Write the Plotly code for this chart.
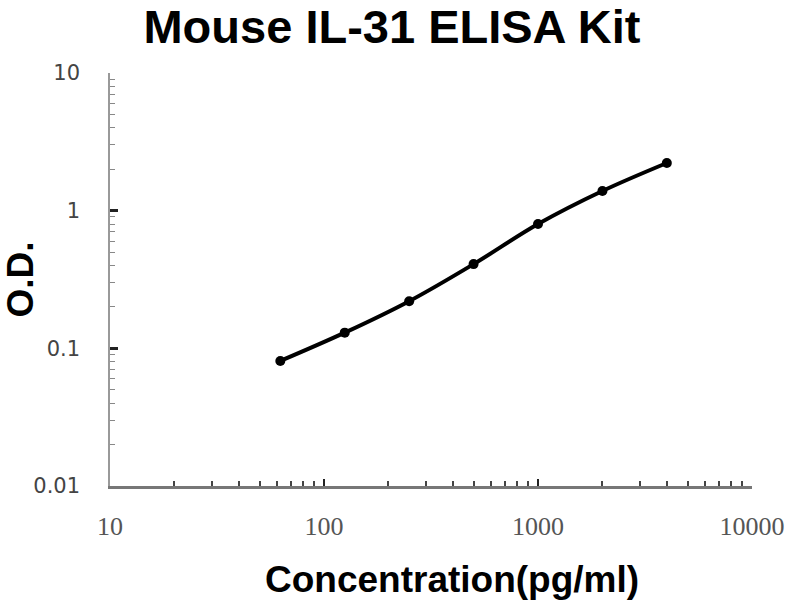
import plotly.graph_objects as go

# standard curve values
concentration = [62.5, 125, 250, 500, 1000, 2000, 4000]
od = [0.081, 0.130, 0.220, 0.409, 0.80, 1.39, 2.22]

x_tick_vals = [10, 100, 1000, 10000]
x_tick_text = ["10", "100", "1000", "10000"]
y_tick_vals = [0.01, 0.1, 1, 10]
y_tick_text = ["0.01", "0.1", "1", "10"]

# minor ticks at 2..9 of each decade
x_minor = [m * 10 ** d for d in range(1, 4) for m in range(2, 10)]
y_minor = [m * 10.0 ** d for d in range(-2, 1) for m in range(2, 10)]

fig = go.Figure()
fig.add_trace(go.Scatter(
    x=concentration, y=od,
    mode="lines+markers",
    line=dict(color="black", width=4, shape="spline", smoothing=1.0),
    marker=dict(color="black", size=10),
    showlegend=False,
))

fig.update_layout(
    width=800, height=600,
    paper_bgcolor="white", plot_bgcolor="white",
    margin=dict(l=110, r=48, t=73, b=114, autoexpand=False),
    title=dict(
        text="<b>Mouse IL-31 ELISA Kit</b>",
        x=0.49, xanchor="center", xref="container",
        y=0.984, yanchor="top", yref="container",
        font=dict(family="Liberation Sans, Arial", size=47, color="black"),
    ),
)

# x axis title placed by hand: it sits right of the plot centre in the reference
fig.add_annotation(
    text="<b>Concentration(pg/ml)</b>",
    xref="paper", yref="paper", x=0.533, y=-0.172,
    xanchor="center", yanchor="top", showarrow=False,
    font=dict(family="Liberation Sans, Arial", size=37, color="black"),
)

fig.update_xaxes(
    type="log", range=[1, 4],
    tickmode="array", tickvals=x_tick_vals, ticktext=x_tick_text,
    ticks="inside", ticklen=7, tickwidth=2, tickcolor="#222",
    minor=dict(tickmode="array", tickvals=x_minor, ticks="inside",
               ticklen=5, tickwidth=1.5, tickcolor="#444", showgrid=False),
    showline=True, linecolor="#777", linewidth=2.5,
    showgrid=False, zeroline=False,
    tickfont=dict(family="Liberation Serif", size=26, color="#555"),
    ticklabelstandoff=15,
)

fig.update_yaxes(
    type="log", range=[-2, 1],
    tickmode="array", tickvals=y_tick_vals, ticktext=y_tick_text,
    ticks="inside", ticklen=8, tickwidth=2.5, tickcolor="#222",
    minor=dict(tickmode="array", tickvals=y_minor, ticks="inside",
               ticklen=5, tickwidth=1, tickcolor="#888", showgrid=False),
    showline=True, linecolor="#999", linewidth=1.5,
    showgrid=False, zeroline=False,
    tickfont=dict(family="DejaVu Sans", size=21, color="#444"),
    ticklabelstandoff=24,
    title=dict(text="<b>O.D.</b>", standoff=0,
               font=dict(family="Liberation Sans, Arial", size=37, color="black")),
)

# drop the page's default 8px body margin so the 800x600 figure fills the window
fig.write_html("out.html", config={"displayModeBar": False},
               post_script="document.body.style.margin='0';")
